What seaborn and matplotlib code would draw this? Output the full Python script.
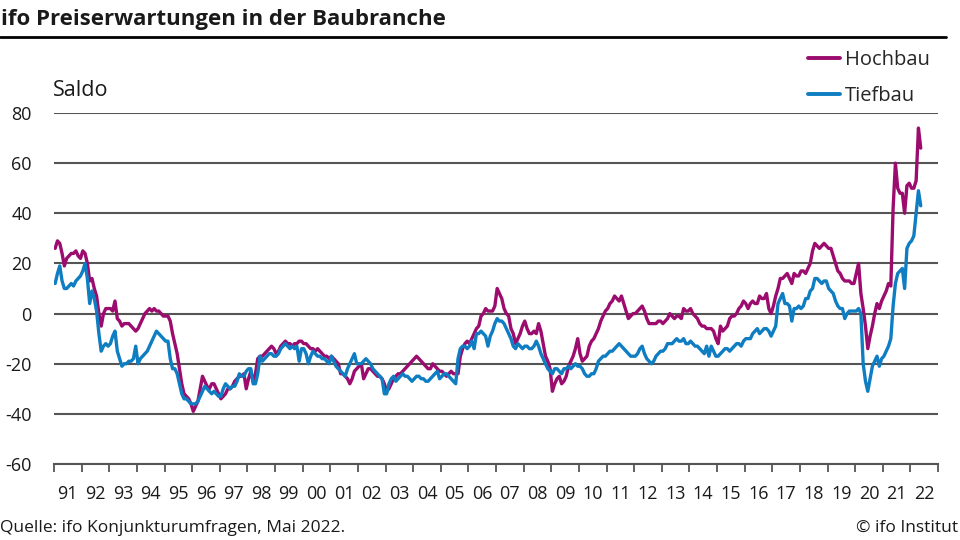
import numpy as np
import pandas as pd
import matplotlib
matplotlib.use("Agg")
import matplotlib.pyplot as plt
import seaborn as sns
from matplotlib.lines import Line2D

# ---------------- data (monthly, Jan 1991 - May 2022) ----------------
start_month = "1991-01"
hochbau = [
    26, 29, 28, 24, 19, 22, 23, 24, 24, 25, 23, 22,          # 1991
    25, 24, 20, 13, 14, 10, 7, 0, -5, 0, 2, 2,               # 1992
    2, 1, 5, -2, -3, -5, -4, -4, -4, -5, -6, -7,             # 1993
    -6, -4, -2, 0, 1, 2, 1, 2, 1, 1, 0, -1,                  # 1994
    -1, -1, -3, -8, -12, -16, -22, -28, -32, -33, -34, -36,  # 1995
    -39, -37, -35, -30, -25, -27, -29, -30, -28, -28, -30, -32,  # 1996
    -34, -33, -32, -30, -30, -29, -27, -26, -25, -25, -24, -30,  # 1997
    -26, -23, -27, -24, -18, -17, -17, -16, -15, -14, -13, -14,  # 1998
    -16, -15, -13, -12, -11, -12, -12, -13, -12, -12, -11, -11,  # 1999
    -12, -12, -13, -14, -14, -15, -14, -15, -16, -17, -17, -18,  # 2000
    -17, -18, -19, -20, -24, -24, -25, -26, -28, -26, -23, -22,  # 2001
    -21, -20, -26, -24, -22, -22, -23, -24, -25, -25, -26, -28,  # 2002
    -31, -30, -28, -26, -25, -24, -24, -23, -22, -21, -20, -19,  # 2003
    -18, -17, -18, -19, -20, -21, -22, -22, -20, -21, -22, -23,  # 2004
    -23, -24, -25, -24, -23, -24, -24, -24, -17, -14, -12, -11,  # 2005
    -12, -10, -8, -6, -5, -1, 0, 2, 1, 1, 1, 3,              # 2006
    10, 8, 6, 2, 0, -1, -6, -8, -12, -10, -8, -5,            # 2007
    -3, -6, -8, -8, -7, -8, -4, -7, -12, -17, -19, -22,      # 2008
    -31, -28, -26, -25, -28, -27, -25, -21, -19, -17, -14, -10,  # 2009
    -16, -19, -18, -17, -13, -11, -10, -8, -6, -3, -1, 1,    # 2010
    2, 4, 5, 7, 6, 5, 7, 4, 1, -2, -1, 0,                    # 2011
    0, 1, 2, 3, 1, -2, -4, -4, -4, -4, -3, -3,               # 2012
    -4, -3, -2, 0, -1, -2, -1, -1, -2, 2, 1, 1,              # 2013
    2, 0, -1, -2, -4, -5, -5, -6, -6, -6, -7, -10,           # 2014
    -12, -5, -7, -6, -5, -2, -1, -1, 0, 2, 3, 5,             # 2015
    4, 2, 4, 5, 4, 4, 7, 6, 6, 8, 2, 0,                      # 2016
    3, 7, 10, 14, 14, 15, 16, 14, 12, 16, 15, 15,            # 2017
    17, 17, 16, 18, 20, 25, 28, 27, 26, 27, 28, 27,          # 2018
    26, 26, 23, 20, 17, 16, 14, 13, 13, 13, 12, 12,          # 2019
    16, 20, 8, 2, -5, -14, -9, -5, 0, 4, 2, 5,               # 2020
    7, 9, 12, 11, 42, 60, 50, 48, 48, 40, 51, 52,            # 2021
    50, 50, 53, 74, 66,                                      # 2022
]
tiefbau = [
    12, 16, 19, 13, 10, 10, 11, 12, 11, 13, 14, 15,          # 1991
    17, 20, 14, 4, 9, 6, 1, -8, -15, -13, -12, -13,          # 1992
    -12, -9, -7, -15, -18, -21, -20, -20, -19, -19, -18, -13,  # 1993
    -20, -18, -17, -16, -15, -13, -11, -9, -7, -8, -9, -10,  # 1994
    -11, -11, -18, -22, -22, -24, -28, -32, -34, -34, -35, -36,  # 1995
    -36, -36, -35, -33, -31, -29, -30, -31, -32, -31, -32, -33,  # 1996
    -33, -30, -28, -29, -30, -29, -29, -27, -24, -25, -25, -23,  # 1997
    -22, -22, -28, -28, -24, -17, -19, -18, -17, -16, -16, -17,  # 1998
    -17, -16, -14, -13, -12, -13, -14, -13, -14, -13, -19, -14,  # 1999
    -14, -16, -20, -17, -15, -16, -17, -17, -18, -18, -19, -20,  # 2000
    -17, -19, -21, -22, -23, -24, -25, -22, -20, -18, -16, -20,  # 2001
    -20, -20, -19, -18, -19, -20, -22, -23, -24, -25, -26, -32,  # 2002
    -32, -28, -26, -25, -27, -26, -25, -24, -25, -25, -26, -27,  # 2003
    -26, -25, -25, -26, -26, -27, -27, -26, -25, -24, -23, -26,  # 2004
    -25, -24, -24, -25, -26, -27, -28, -18, -14, -13, -13, -14,  # 2005
    -13, -11, -14, -8, -8, -7, -8, -9, -13, -9, -7, -4,      # 2006
    -2, -3, -3, -4, -6, -8, -10, -13, -14, -12, -13, -14,    # 2007
    -13, -13, -14, -14, -13, -11, -13, -16, -18, -20, -22, -23,  # 2008
    -24, -22, -22, -23, -24, -22, -22, -21, -22, -21, -20, -21,  # 2009
    -21, -22, -24, -25, -25, -24, -24, -22, -19, -18, -17, -17,  # 2010
    -16, -15, -15, -14, -13, -12, -13, -14, -15, -16, -17, -17,  # 2011
    -17, -16, -14, -13, -16, -18, -19, -20, -19, -17, -16, -15,  # 2012
    -15, -14, -12, -12, -12, -11, -10, -11, -11, -10, -12, -12,  # 2013
    -11, -12, -13, -13, -14, -15, -16, -13, -17, -13, -15, -17,  # 2014
    -17, -16, -15, -14, -14, -15, -14, -13, -12, -12, -13, -11,  # 2015
    -10, -10, -10, -8, -7, -6, -8, -7, -6, -6, -7, -9,       # 2016
    -7, -5, 4, 6, 8, 4, 4, 3, -3, 2, 2, 3,                   # 2017
    2, 3, 6, 6, 9, 10, 14, 14, 13, 12, 13, 13,               # 2018
    10, 9, 8, 5, 3, 2, 2, -2, 0, 1, 1, 1,                    # 2019
    1, 2, 0, -20, -27, -31, -26, -21, -19, -17, -21, -18,    # 2020
    -17, -15, -13, -10, 3, 12, 16, 17, 18, 10, 26, 28,       # 2021
    29, 31, 40, 49, 43,                                      # 2022
]
series_names = ["Hochbau", "Tiefbau"]
series_colors = ["#9B0C6E", "#0E7DC2"]
years = list(range(1991, 2023))
year_labels = [f"{y % 100:02d}" for y in years]
y_ticks = [80, 60, 40, 20, 0, -20, -40, -60]
title = "ifo Preiserwartungen in der Baubranche"
y_unit = "Saldo"
source = "Quelle: ifo Konjunkturumfragen, Mai 2022."
copyright_text = "\u00a9 ifo Institut"

# ---------------- build long table ----------------
dates = pd.date_range(start_month, periods=len(hochbau), freq="MS")
t = np.asarray(dates.year + (dates.month - 0.5) / 12.0, dtype=float)
df = pd.DataFrame({
    "t": np.concatenate([t, t]),
    "Saldo": hochbau + tiefbau,
    "Reihe": [series_names[0]] * len(hochbau) + [series_names[1]] * len(tiefbau),
})

sns.set_theme(style="white")
plt.rcParams["font.family"] = ["Open Sans", "DejaVu Sans"]

text_col = "#1a1a1a"
grid_col = "#555555"
fig = plt.figure(figsize=(9.6, 5.4), dpi=100)
ax = fig.add_axes([54 / 960, 1 - 464 / 540, (938 - 54) / 960, (464 - 113) / 540])

sns.lineplot(data=df, x="t", y="Saldo", hue="Reihe", hue_order=series_names,
             palette=series_colors, linewidth=2.4, ax=ax, legend=False,
             solid_capstyle="round", solid_joinstyle="round")

ax.set_xlim(years[0], years[-1] + 1)
ax.set_ylim(min(y_ticks), max(y_ticks))
ax.set_yticks(y_ticks)
ax.set_yticklabels([str(v) for v in y_ticks])
ax.yaxis.grid(True, color=grid_col, linewidth=1.5)
ax.xaxis.grid(False)
ax.set_axisbelow(True)

ax.set_xticks([y for y in years] + [years[-1] + 1])
ax.set_xticklabels([""] * (len(years) + 1))
ax.set_xticks([y + 0.5 for y in years], minor=True)
ax.set_xticklabels(year_labels, minor=True)
ax.tick_params(axis="x", which="major", direction="out", length=6, width=1.3,
               color=grid_col, bottom=True)
ax.tick_params(axis="x", which="minor", length=0, pad=15, labelsize=13,
               labelcolor=text_col)
ax.tick_params(axis="y", length=0, pad=16, labelsize=13, labelcolor=text_col)
for lab in ax.get_yticklabels():
    lab.set_horizontalalignment("right")

for s in ["left", "right", "top"]:
    ax.spines[s].set_visible(False)
ax.spines["bottom"].set_color(grid_col)
ax.spines["bottom"].set_linewidth(1.5)
ax.set_xlabel("")
ax.set_ylabel("")

# title and rule
fig.text(1 / 960, 1 - 19 / 540, title, fontsize=16, fontweight="bold",
         va="center", ha="left", color=text_col)
fig.add_artist(Line2D([0, 946 / 960], [1 - 37 / 540] * 2, color="black",
                      linewidth=2.0, transform=fig.transFigure))

fig.text(53 / 960, 1 - 91 / 540, y_unit, fontsize=15.5, va="center", ha="left",
         color=text_col)

# legend
handles = [Line2D([0], [0], color=c, linewidth=2.8) for c in series_colors]
fig.legend(handles, series_names, loc="upper left",
           bbox_to_anchor=(808 / 960, 1 - 50 / 540), frameon=False,
           fontsize=14.5, handlelength=1.6, handletextpad=0.25,
           labelspacing=0.78, borderpad=0, borderaxespad=0)

# footer
fig.text(0 / 960, 1 - 528 / 540, source, fontsize=12.5, va="center", ha="left",
         color=text_col)
fig.text(958 / 960, 1 - 528 / 540, copyright_text, fontsize=12.5, va="center",
         ha="right", color=text_col)

fig.savefig("out.png", dpi=100)
